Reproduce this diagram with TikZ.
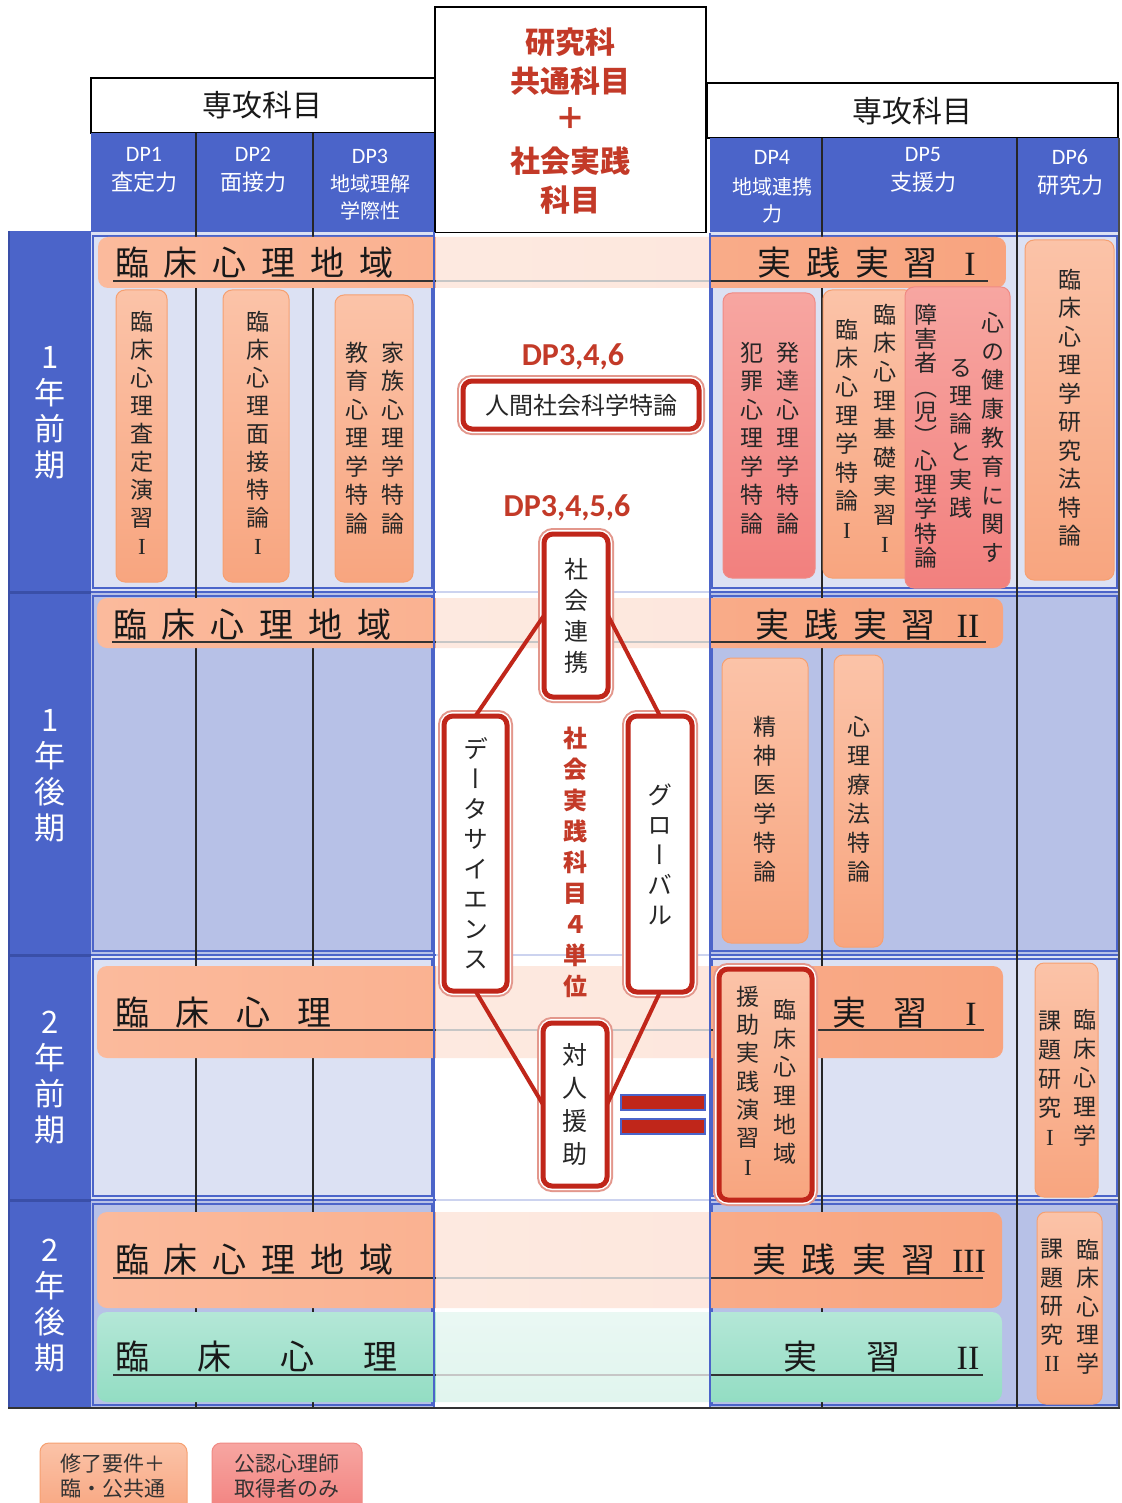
\documentclass[tikz,border=0pt]{standalone}
\usepackage{fontspec}
\setmainfont{Noto Sans CJK JP}
\newfontfamily\jp{Noto Sans CJK JP}
\newfontfamily\jpv[RawFeature=+vert]{Noto Sans CJK JP}
\newfontfamily\lat{Carlito}
\newfontfamily\rmn{Liberation Serif}
\newcommand\RI{\hbox to 1em{\hss\rmn I\hss}}
\newcommand\RII{\hbox to 1em{\hss\rmn II\hss}}
\newcommand\RIII{\hbox to 1em{\hss\rmn III\hss}}
\definecolor{dpblue}{HTML}{4B64C9}
\definecolor{dpdark}{HTML}{3A4FA8}
\definecolor{lightlav}{HTML}{DCE1F3}
\definecolor{lav}{HTML}{B7C1E7}
\definecolor{obarL}{HTML}{FBBA9C}
\definecolor{obarR}{HTML}{F8A47F}
\definecolor{obtop}{HTML}{FBC3A8}
\definecolor{obbot}{HTML}{F8A57F}
\definecolor{obdraw}{HTML}{F6A071}
\definecolor{rbtop}{HTML}{F7A6A1}
\definecolor{rbbot}{HTML}{F2807E}
\definecolor{rbdraw}{HTML}{F08A84}
\definecolor{gtop}{HTML}{B4E7D7}
\definecolor{gbot}{HTML}{93DDC3}
\definecolor{dred}{HTML}{C0261A}
\definecolor{lred}{HTML}{E3978C}
\definecolor{redtxt}{HTML}{C33A28}
\definecolor{ulgray}{HTML}{333333}
\newcommand\fsz[1]{\fontsize{#1}{#1}\selectfont}
\makeatletter
\def\vst@end{\vst@end}
\newcommand\vst[2]{\vtop{\baselineskip=#1pt\lineskiplimit=-100pt\lineskip=0pt\vst@loop#2\vst@end}}
\def\vst@loop#1{\ifx#1\vst@end\else\hbox to 1em{\hss#1\hss}\expandafter\vst@loop\fi}
\newdimen\hsppitch
\newcommand\hsp[2]{\hsppitch=#1pt\relax\hbox{\hsp@loop#2\vst@end}}
\def\hsp@loop#1{\ifx#1\vst@end\else\hbox to \hsppitch{#1\hss}\expandafter\hsp@loop\fi}
\makeatother
\begin{document}
\begin{tikzpicture}[x=1pt,y=-1pt,
 every node/.style={inner sep=0pt,outer sep=0pt},
 obox/.style={top color=obtop,bottom color=obbot,draw=obdraw,line width=1pt,rounded corners=9pt},
 rbox/.style={top color=rbtop,bottom color=rbbot,draw=rbdraw,line width=1pt,rounded corners=9pt},
 obar/.style={left color=obarL,right color=obarR,rounded corners=10pt},
 gbar/.style={top color=gtop,bottom color=gbot,rounded corners=10pt},
 frameR/.style={draw=dred,line width=5pt,rounded corners=9pt,preaction={draw=lred,line width=12pt},preaction={draw=white,line width=8pt}},
 cbox/.style={frameR,fill=white,rectangle},
 conn/.style={draw=dred,line width=4pt},
 uline/.style={draw=ulgray,line width=1.2pt},
 divl/.style={draw=black!85,line width=2pt},
 sepl/.style={draw=dpblue,line width=2.5pt},
 vt/.style={anchor=north,text=black!85,font=\jpv\fsz{23}},
 bartxt/.style={anchor=west,text=black!90,font=\jp\fsz{34}},
 semtxt/.style={anchor=north,text=white,font=\jp\fsz{31}},
 dplat/.style={text=white,font=\lat\fsz{22}},
 dpjp/.style={text=white,font=\jp\fsz{22}},
 hdrtxt/.style={text=black!90,font=\jp\fsz{30}},
 redhdr/.style={text=redtxt,font=\jp\bfseries\fsz{30}},
 reddp/.style={text=redtxt,font=\lat\bfseries\fsz{32}},
 legtxt/.style={text=black!80,font=\jp\fsz{21}},
]
\useasboundingbox (0,0) rectangle (1121,1503);
\fill[white] (0,0) rectangle (1121,1503);
% ---------- header ----------
\draw[line width=2pt,fill=white] (91,78) rectangle (435,133);
\node[hdrtxt] (hL) at (262,105) {専攻科目};
\fill[dpblue] (91,133) rectangle (434,232);
\draw[line width=2pt,fill=white] (435,7) rectangle (706,233);
\draw[line width=2pt,fill=white] (707,83) rectangle (1118,138);
\node[hdrtxt] (hR) at (912,111) {専攻科目};
\fill[dpblue] (710,138) rectangle (1119,233);
\node[redhdr] (c1) at (570,42) {研究科};
\node[redhdr] (c2) at (570,81) {共通科目};
\node[redhdr] (c3) at (570,119) {＋};
\node[redhdr] (c4) at (570,161) {社会実践};
\node[redhdr] (c5) at (570,200) {科目};
% DP labels
\node[dplat] (dp1) at (144,154) {DP1};
\node[dpjp] (dp1t) at (144,182) {査定力};
\node[dplat] (dp2) at (253,154) {DP2};
\node[dpjp] (dp2t) at (253,182) {面接力};
\node[dplat] (dp3) at (370,156) {DP3};
\node[dpjp,font=\jp\fsz{20}] (dp3t) at (370,184) {地域理解};
\node[dpjp,font=\jp\fsz{20}] (dp3u) at (370,211) {学際性};
\node[dplat] (dp4) at (772,157) {DP4};
\node[dpjp,font=\jp\fsz{20}] (dp4t) at (772,187) {地域連携};
\node[dpjp,font=\jp\fsz{20}] (dp4u) at (772,214) {力};
\node[dplat] (dp5) at (923,155) {DP5};
\node[dpjp] (dp5t) at (923,182) {支援力};
\node[dplat] (dp6) at (1070,157) {DP6};
\node[dpjp] (dp6t) at (1070,185) {研究力};
% ---------- body backgrounds ----------
\fill[dpblue] (9,231) rectangle (91,1408);
\foreach \xa/\xb in {91/434,710/1119}{
  \fill[lightlav] (\xa,232) rectangle (\xb,592);
  \fill[lav] (\xa,592) rectangle (\xb,955);
  \fill[lightlav] (\xa,955) rectangle (\xb,1200);
  \fill[lav] (\xa,1200) rectangle (\xb,1408);
  \draw[dpblue,line width=1.2pt] (\xa+2,236) rectangle (\xb-2,588);
  \draw[dpblue,line width=1.2pt] (\xa+2,596) rectangle (\xb-2,951);
  \draw[dpblue,line width=1.2pt] (\xa+2,959) rectangle (\xb-2,1196);
  \draw[dpblue,line width=1.2pt] (\xa+2,1204) rectangle (\xb-2,1405);
}
\fill[white] (434,233) rectangle (710,1408);
\foreach \yy in {592,955,1200}{
  \draw[sepl] (91,\yy) -- (1119,\yy);
  \draw[draw=dpdark,line width=3pt] (9,\yy) -- (91,\yy);
}
\draw[dpdark,line width=2pt] (9,231) -- (9,1408);
% column dividers
\draw[divl] (196,133) -- (196,1408);
\draw[divl] (313,133) -- (313,1408);
\draw[divl] (822,138) -- (822,1408);
\draw[divl] (1017,138) -- (1017,1408);
% ---------- bars ----------
\shade[obar] (98,237) rectangle (1006,288);
\shade[obar] (97,598) rectangle (1003,648);
\shade[obar] (97,966) rectangle (1003,1058);
\shade[obar] (97,1212) rectangle (1002,1308);
\shade[gbar] (97,1312) rectangle (1002,1402);
\node[bartxt] (b1L) at (115,263) {\hsp{49}{臨床心理地域}};
\node[bartxt] (b1R) at (757,263) {\hsp{49}{実践実習\RI}};
\node[bartxt] (b2L) at (113,625) {\hsp{49}{臨床心理地域}};
\node[bartxt] (b2R) at (755,625) {\hsp{49}{実践実習\RII}};
\node[bartxt] (b3L) at (115,1013) {\hsp{61}{臨床心理}};
\node[bartxt] (b3R) at (832,1013) {\hsp{61}{実習\RI}};
\node[bartxt] (b4L) at (115,1260) {\hsp{49}{臨床心理地域}};
\node[bartxt] (b4R) at (752,1260) {\hsp{50}{実践実習\RIII}};
\node[bartxt] (b5L) at (115,1357) {\hsp{83}{臨床心理}};
\node[bartxt] (b5R) at (783,1357) {\hsp{84}{実習\RII}};
\draw[uline] (113,281) -- (988,281);
\draw[uline] (112,642) -- (986,642);
\draw[uline] (113,1030) -- (984,1030);
\draw[uline] (113,1278) -- (983,1278);
\draw[uline] (113,1375) -- (983,1375);
% centre overlay
\fill[white,opacity=0.72] (436,234) rectangle (709,1406);
\draw[dpblue,line width=1.5pt] (434,232) -- (434,1408);
\draw[dpblue,line width=1.5pt] (710,233) -- (710,1408);
\draw[black!70,line width=2pt] (1119,138) -- (1119,1408);
\draw[black!80,line width=2.5pt] (8,1408) -- (1120,1408);
% ---------- semester labels ----------
\node[semtxt] (s1) at (50,346) {\vst{36}{1年前期}};
\node[semtxt] (s2) at (50,709) {\vst{36}{1年後期}};
\node[semtxt] (s3) at (50,1011) {\vst{36}{2年前期}};
\node[semtxt] (s4) at (50,1239) {\vst{36}{2年後期}};
% ---------- course boxes : row 1 ----------
\draw[obox] (116,290) rectangle (167,582);
\node[vt] (k1) at (142,311) {\vst{28}{臨床心理査定演習\RI}};
\draw[obox] (223,290) rectangle (289,582);
\node[vt] (k2) at (258,311) {\vst{28}{臨床心理面接特論\RI}};
\draw[obox] (335,295) rectangle (413,582);
\node[vt] (k3a) at (393,342) {\vst{28.5}{家族心理学特論}};
\node[vt] (k3b) at (357,342) {\vst{28.5}{教育心理学特論}};
\draw[rbox] (723,293) rectangle (815,578);
\node[vt] (k4a) at (788,342) {\vst{28.5}{発達心理学特論}};
\node[vt] (k4b) at (752,342) {\vst{28.5}{犯罪心理学特論}};
\draw[obox] (823,290) rectangle (914,578);
\node[vt] (k5a) at (885,304) {\vst{28.6}{臨床心理基礎実習\RI}};
\node[vt] (k5b) at (847,319) {\vst{28.6}{臨床心理学特論\RI}};
\draw[rbox] (905,287) rectangle (1010,588);
\node[vt] (k6a) at (993,312) {\vst{28.8}{心の健康教育に関す}};
\node[vt] (k6b) at (961,359) {\vst{28}{る理論と実践}};
\node[vt] (k6c) at (926,304) {\vst{24.3}{障害者︵児︶心理学特論}};
\draw[obox] (1025,240) rectangle (1114,580);
\node[vt] (k7) at (1070,269) {\vst{28.5}{臨床心理学研究法特論}};
% ---------- row 2 ----------
\draw[obox] (722,658) rectangle (808,943);
\node[vt] (k8) at (765,716) {\vst{29}{精神医学特論}};
\draw[obox] (834,655) rectangle (883,947);
\node[vt] (k9) at (859,716) {\vst{29}{心理療法特論}};
% ---------- row 3 ----------
\draw[frameR,top color=obtop,bottom color=obbot] (719,969) rectangle (812,1200);
\node[vt] (k10a) at (785,999) {\vst{28.8}{臨床心理地域}};
\node[vt] (k10b) at (748,986) {\vst{28.3}{援助実践演習\RI}};
\draw[obox] (1035,963) rectangle (1098,1197);
\node[vt] (k11a) at (1085,1009) {\vst{29}{臨床心理学}};
\node[vt] (k11b) at (1050,1011) {\vst{29}{課題研究\RI}};
% ---------- row 4 ----------
\draw[obox] (1037,1212) rectangle (1102,1404);
\node[vt] (k12a) at (1088,1239) {\vst{28.5}{臨床心理学}};
\node[vt] (k12b) at (1052,1239) {\vst{28.5}{課題研究\RII}};
% ---------- centre column ----------
\node[reddp] (dpa) at (573,357) {DP3,4,6};
\node[cbox,minimum width=236,minimum height=48] (ningen) at (581,405) {\jp\fsz{24}\color{black!85}人間社会科学特論};
\node[reddp] (dpb) at (567,508) {DP3,4,5,6};
\node[cbox,minimum width=64,minimum height=163] (renkei) at (576,615.5) {\jpv\fsz{24}\color{black!85}\vst{31}{社会連携}};
\node[cbox,minimum width=63,minimum height=275] (ds) at (475.5,853.5) {\jpv\fsz{25}\color{black!85}\vst{30}{データサイエンス}};
\node[cbox,minimum width=64,minimum height=276] (gl) at (660,854) {\jpv\fsz{25}\color{black!85}\vst{30}{グローバル}};
\node[cbox,minimum width=64,minimum height=163] (taijin) at (575,1104.5) {\jpv\fsz{25}\color{black!85}\vst{33}{対人援助}};
\draw[conn] (renkei.west) -- (ds.north);
\draw[conn] (renkei.east) -- (gl.north);
\draw[conn] (ds.south) -- (taijin.west);
\draw[conn] (gl.south) -- (taijin.east);
\node[anchor=north,text=redtxt,font=\jpv\bfseries\fsz{24}] (tani) at (575,727) {\vst{31}{社会実践科目４単位}};
\draw[draw=dpblue,fill=dred,line width=1.5pt] (621,1095) rectangle (705,1110);
\draw[draw=dpblue,fill=dred,line width=1.5pt] (621,1119) rectangle (705,1134);
% ---------- legend ----------
\draw[obox] (40,1443) rectangle (187,1515);
\node[legtxt] (lg1) at (113,1464) {修了要件＋};
\node[legtxt] (lg2) at (113,1489) {臨・公共通};
\draw[rbox] (212,1443) rectangle (362,1515);
\node[legtxt] (lg3) at (287,1464) {公認心理師};
\node[legtxt] (lg4) at (287,1489) {取得者のみ};
\end{tikzpicture}
\end{document}
